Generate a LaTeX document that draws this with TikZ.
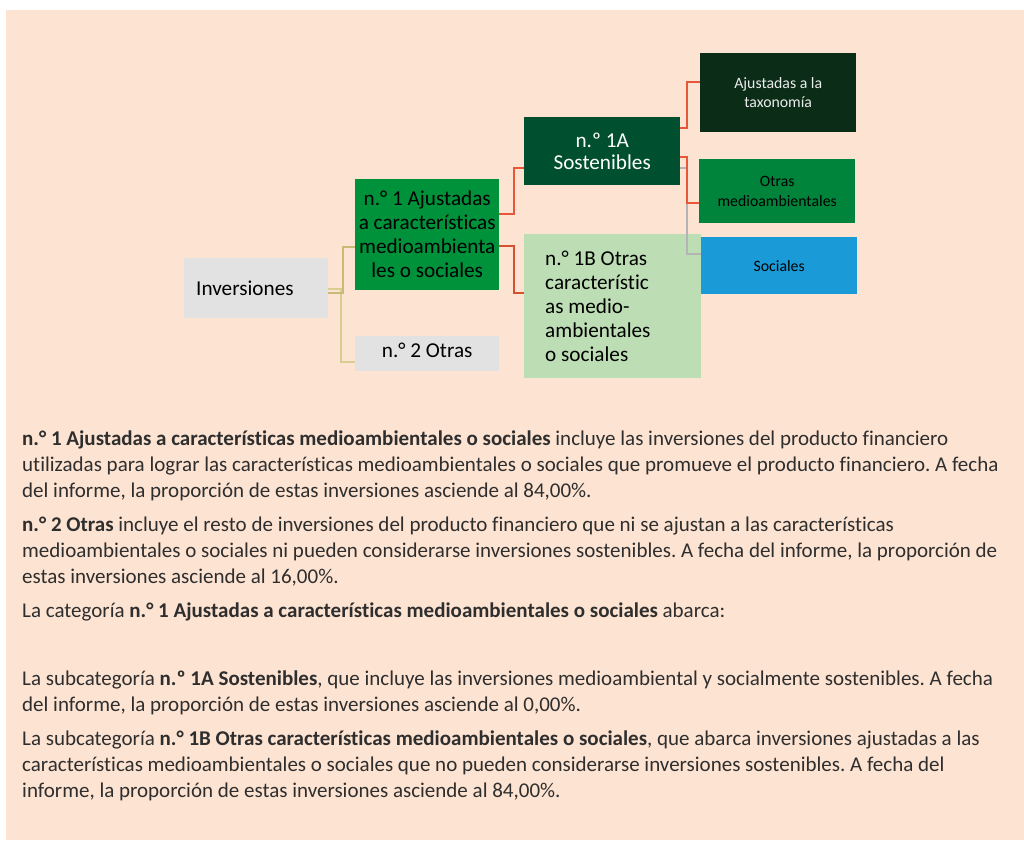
\documentclass[tikz,border=0pt]{standalone}
\usepackage{fontspec}
\setmainfont{Carlito}[Ligatures=NoCommon]
\definecolor{peach}{HTML}{FDE3D2}
\definecolor{boxgray}{HTML}{E2E2E2}
\definecolor{catgreen}{HTML}{00923A}
\definecolor{susgreen}{HTML}{00502F}
\definecolor{othgreen}{HTML}{BDDDB5}
\definecolor{taxgreen}{HTML}{0B2D17}
\definecolor{envgreen}{HTML}{00843B}
\definecolor{socblue}{HTML}{1A9BD8}
\definecolor{linkgold}{HTML}{C9BA78}
\definecolor{linkkhaki}{HTML}{D8CE92}
\definecolor{linkred}{HTML}{E9573A}
\definecolor{linkdred}{HTML}{D4502F}
\definecolor{linkgray}{HTML}{B4B4B4}
\definecolor{bodytext}{HTML}{2E2E2E}
\tikzset{
  box/.style 2 args={anchor=north west, inner sep=0pt, fill=#1,
    minimum width=#2, align=center},
  bigtext/.style={font=\fontsize{21.2}{24}\selectfont\frenchspacing},
  smalltext/.style={font=\fontsize{15.8}{19.5}\selectfont},
  link/.style={line width=1.5pt, draw=#1},
  bodyline/.style={anchor=base west, inner sep=0pt, text=bodytext,
    font=\fontsize{21}{26}\selectfont\frenchspacing},
}
\begin{document}
\begin{tikzpicture}[x=1pt, y=-1pt]
\useasboundingbox (0,0) rectangle (1024,840);
\fill[white] (0,0) rectangle (1024,840);
\fill[peach] (6,10) rectangle (1024,840);

% tree of boxes
\node[box={boxgray}{144pt}, minimum height=60pt, bigtext, align=flush left,
  text width=120pt, inner xsep=12pt] (inv) at (184,258) {Inversiones};
\node[box={catgreen}{144pt}, minimum height=111pt, bigtext] (cat1) at (355,179)
  {n.° 1 Ajustadas\\a características\\medioambienta\\les o sociales};
\node[box={boxgray}{144pt}, minimum height=35pt, bigtext] (cat2) at (355,336)
  {\raisebox{7pt}{n.° 2 Otras}};
\node[box={susgreen}{156pt}, minimum height=68pt, text=white,
  font=\fontsize{21.2}{22.7}\selectfont] (sub1a) at (524,117)
  {n.º 1A\\Sostenibles};
\node[box={othgreen}{156pt}, minimum height=144pt, bigtext, align=flush left,
  text width=135pt, inner xsep=21pt] (sub1b) at (524,234)
  {n.° 1B Otras\\característic\\as medio-\\ambientales\\o sociales};
\node[box={taxgreen}{156pt}, minimum height=79pt, smalltext, text=white!92!black]
  (tax) at (700,53) {Ajustadas a la\\taxonomía};
\node[box={envgreen}{156pt}, minimum height=64pt, smalltext] (env) at (699,159)
  {Otras\\medioambientales};
\node[box={socblue}{156pt}, minimum height=57pt, smalltext] (soc) at (701,237)
  {Sociales};

% connectors
\draw[link=linkkhaki] (inv.east |- 0,289) -| (341,362) -- (cat2.west |- 0,362);
\draw[link=linkgold]  (inv.east |- 0,293) -| (343,247) -- (cat1.west |- 0,247);
\draw[link=linkred]   (cat1.east |- 0,214) -| (514,168) -- (sub1a.west |- 0,168);
\draw[link=linkdred]  (cat1.east |- 0,246) -| (514,293) -- (sub1b.west |- 0,293);
\draw[link=linkgray]  (sub1a.east |- 0,168) -| (687,254) -- (soc.west |- 0,254);
\draw[link=linkred]   (sub1a.east |- 0,128) -| (687,82) -- (tax.west |- 0,82);
\draw[link=linkred]   (sub1a.east |- 0,157) -| (687,203) -- (env.west |- 0,203);

% explanatory text
\foreach \y/\txt [count=\i] in {
  445/{\textbf{n.° 1 Ajustadas a características medioambientales o sociales} incluye las inversiones del producto financiero},
  471/{utilizadas para lograr las características medioambientales o sociales que promueve el producto financiero. A fecha},
  497/{del informe, la proporción de estas inversiones asciende al 84,00\%.},
  531/{\textbf{n.° 2 Otras} incluye el resto de inversiones del producto financiero que ni se ajustan a las características},
  557/{medioambientales o sociales ni pueden considerarse inversiones sostenibles. A fecha del informe, la proporción de},
  583/{estas inversiones asciende al 16,00\%.},
  617/{La categoría \textbf{n.° 1 Ajustadas a características medioambientales o sociales} abarca:},
  685/{La subcategoría \textbf{n.º 1A Sostenibles}, que incluye las inversiones medioambiental y socialmente sostenibles. A fecha},
  711/{del informe, la proporción de estas inversiones asciende al 0,00\%.},
  745/{La subcategoría \textbf{n.° 1B Otras características medioambientales o sociales}, que abarca inversiones ajustadas a las},
  771/{características medioambientales o sociales que no pueden considerarse inversiones sostenibles. A fecha del},
  797/{informe, la proporción de estas inversiones asciende al 84,00\%.}}
  \node[bodyline] (line\i) at (22,\y) {\txt};
\end{tikzpicture}
\end{document}
